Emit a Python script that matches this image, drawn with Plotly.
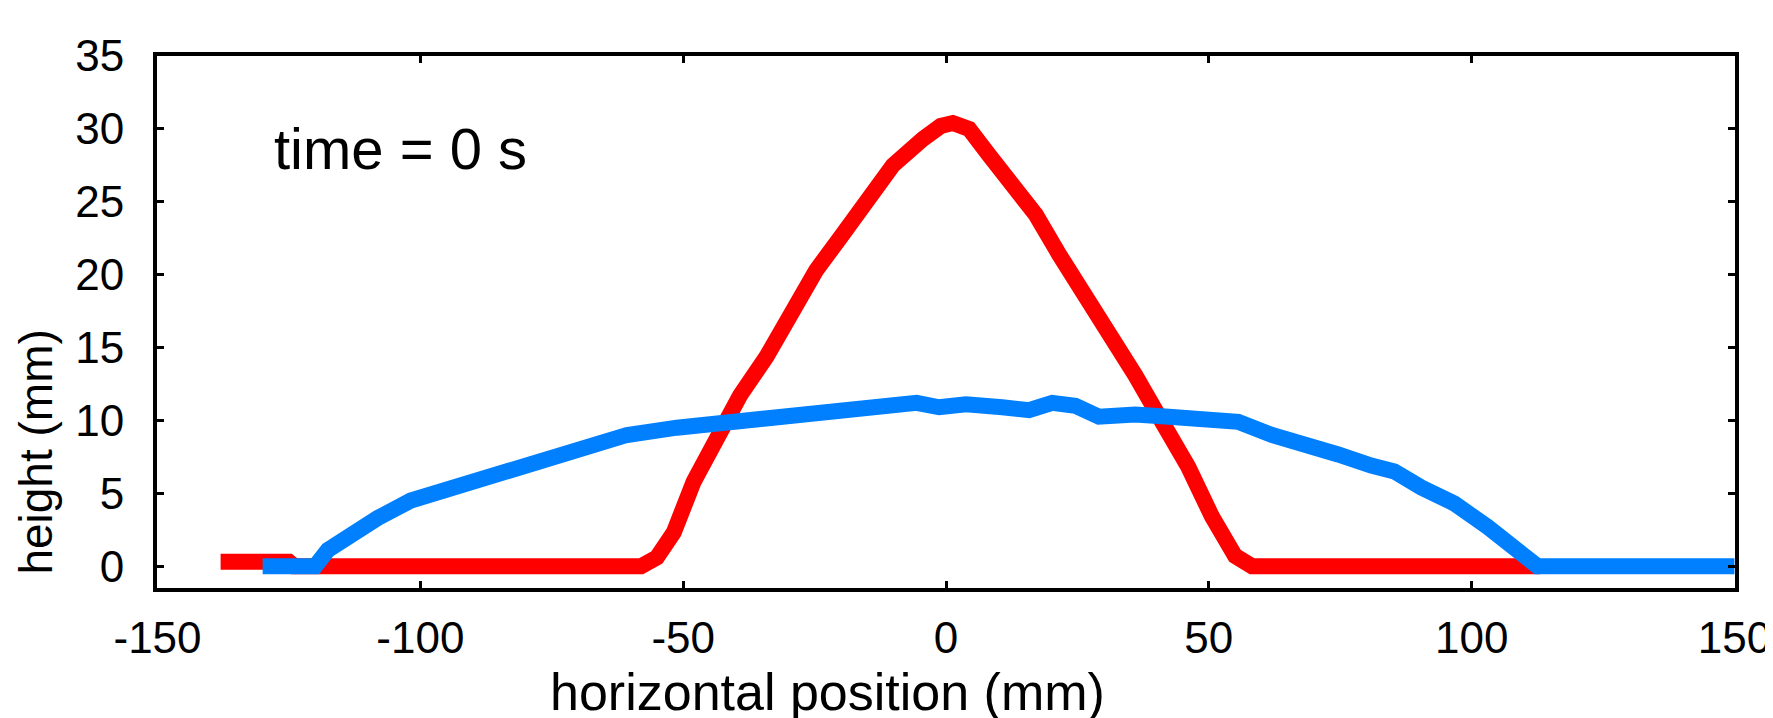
import plotly.graph_objects as go

# Red profile (initial state)
red_x = [-138, -125, -124, -100, -80, -58, -55, -51.8, -48, -43.6, -39.2, -34.1, -29.1,
         -24.7, -20.2, -15.2, -10.1, -4.4, -1, 1.3, 4.4, 8.2, 13.3, 17.1, 21.5, 25.9,
         31.0, 36.0, 41.1, 46.1, 50.6, 55.0, 58.2, 80, 100, 113]
red_y = [0.3, 0.3, 0, 0, 0, 0, 0.6, 2.3, 5.8, 9.0, 11.7, 14.4, 17.6,
         20.3, 22.5, 25.0, 27.5, 29.3, 30.2, 30.4, 30.0, 28.2, 25.9, 24.1, 21.4, 18.9,
         16.2, 13.1, 9.9, 6.8, 3.4, 0.7, 0, 0, 0, 0]

# Blue profile
blue_x = [-130, -120, -117.6, -113.8, -108.1, -101.8, -95.4, -87.9, -79.6, -70.2, -60.7,
          -51.2, -43, -39.2, -26.5, -13.9, -5.6, -1.3, 3.8, 10.7, 15.8, 20.2, 24.6, 29.1,
          36.0, 42.4, 48.7, 55.6, 62.0, 68.3, 74.6, 80.9, 85.3, 90.4, 96.7, 103.0, 108.1,
          112.5, 130, 150]
blue_y = [0, 0, 1.1, 2.0, 3.3, 4.5, 5.2, 6.1, 7.0, 8.1, 9.0,
          9.5, 9.8, 10.1, 10.6, 10.9, 11.2, 10.9, 11.1, 10.9, 10.7, 11.2, 11.0, 10.25,
          10.4, 10.25, 10.0, 9.9, 9.0, 8.45, 7.66, 6.9, 6.5, 5.4, 4.3, 2.7, 1.35,
          0.0, 0, 0]

x_ticks = [-150, -100, -50, 0, 50, 100, 150]
y_ticks = [0, 5, 10, 15, 20, 25, 30, 35]

FONT = "Liberation Sans, Arial, sans-serif"

fig = go.Figure()
fig.add_trace(go.Scatter(x=red_x, y=red_y, mode="lines",
                         line=dict(color="#FF0000", width=16), showlegend=False))
fig.add_trace(go.Scatter(x=blue_x, y=blue_y, mode="lines",
                         line=dict(color="#0080FF", width=16), showlegend=False))

fig.add_annotation(text="time = 0 s", xref="paper", yref="paper", x=0.073, y=0.826,
                   xanchor="left", yanchor="middle", showarrow=False,
                   font=dict(family=FONT, size=58, color="black"))
fig.add_annotation(text="horizontal position (mm)", xref="paper", yref="paper",
                   x=0.425, y=-0.1955, xanchor="center", yanchor="middle", showarrow=False,
                   font=dict(family=FONT, size=52, color="black"))
fig.add_annotation(text="height (mm)", xref="paper", yref="paper", textangle=-90,
                   x=-0.0765, y=0.255, xanchor="center", yanchor="middle", showarrow=False,
                   font=dict(family=FONT, size=46, color="black"))

axis_common = dict(showline=True, linecolor="black", linewidth=4, mirror="allticks",
                   ticks="inside", ticklen=7, tickwidth=3, tickcolor="black",
                   showgrid=False, zeroline=False,
                   tickfont=dict(family=FONT, size=44, color="black"))

fig.update_xaxes(range=[-150.1, 150.1], tickvals=x_ticks, ticktext=[str(v) for v in x_ticks],
                 ticklabelstandoff=8, **axis_common)
fig.update_yaxes(range=[-1.5, 35], tickvals=y_ticks, ticktext=[str(v) for v in y_ticks],
                 ticklabelstandoff=20, **axis_common)

fig.update_layout(width=1773, height=718, plot_bgcolor="white", paper_bgcolor="white",
                  margin=dict(l=149, r=46, t=48, b=138, autoexpand=False))

fig.write_html("out.html")
